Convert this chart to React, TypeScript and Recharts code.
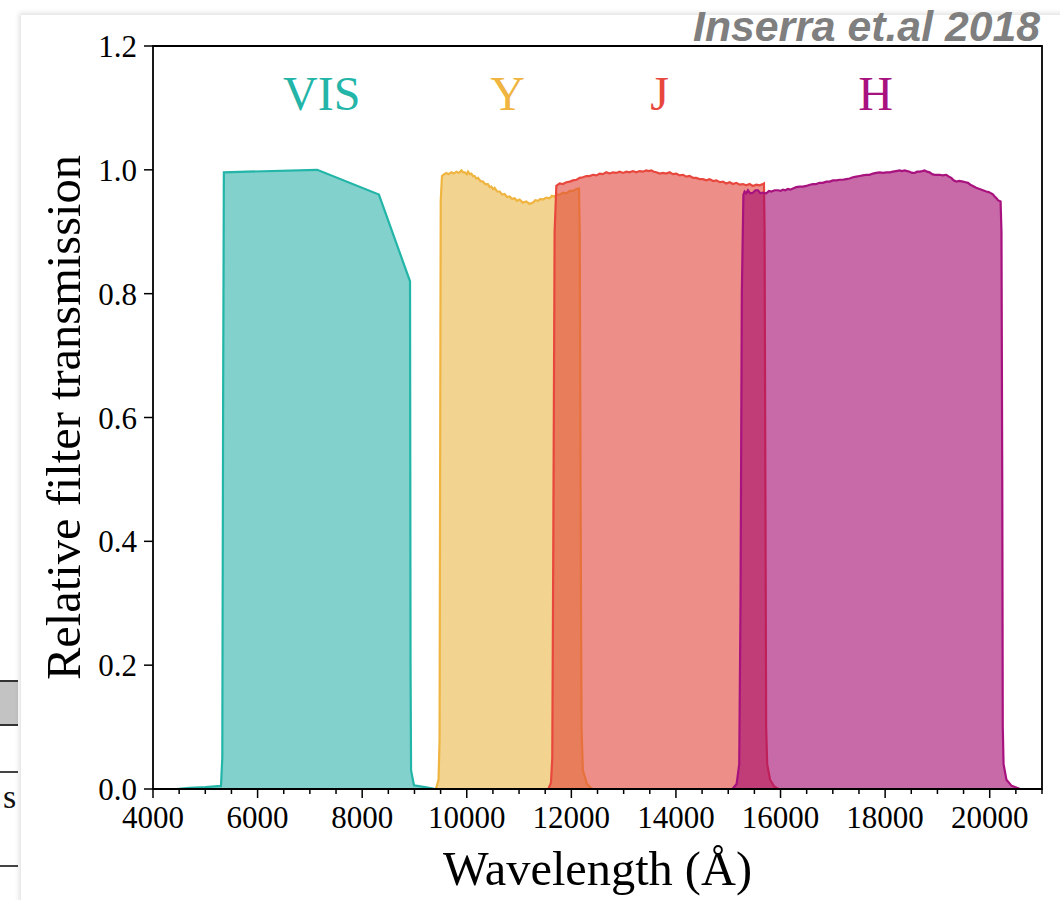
import React from 'react';
import { ComposedChart, Area, XAxis, YAxis, ReferenceArea, ReferenceDot } from 'recharts';

// Filter transmission curves: [wavelength (Å), relative transmission]
const visCurve: [number, number][] = [
  [4000, 0], [4450, 0], [4700, 0.002], [5000, 0.003], [5300, 0.005],
  [5325, 0.05], [5340, 0.6], [5355, 0.996], [7140, 1.0], [8320, 0.96],
  [8915, 0.82], [8925, 0.2], [8935, 0.03], [8990, 0.006], [9200, 0.003], [9400, 0],
];

const yCurve: [number, number][] = [
  [9410, 0], [9460, 0.015], [9480, 0.08], [9490, 0.5], [9502, 0.95], [9526, 0.99],
  [9570, 0.993], [9610, 0.995], [9650, 0.993], [9705, 0.996], [9750, 0.994],
  [9801, 0.997], [9850, 0.995], [9897, 0.999], [9930, 0.996], [9960, 0.996],
  [10000, 0.993], [10023, 0.997], [10060, 0.993], [10088, 0.994], [10120, 0.99],
  [10151, 0.99], [10180, 0.986], [10214, 0.987], [10260, 0.982], [10310, 0.981],
  [10350, 0.977], [10405, 0.977], [10440, 0.972], [10470, 0.973], [10500, 0.969],
  [10533, 0.971], [10580, 0.965], [10629, 0.965], [10680, 0.96], [10725, 0.961],
  [10770, 0.956], [10820, 0.957], [10870, 0.953], [10916, 0.954], [10960, 0.95],
  [11011, 0.952], [11070, 0.947], [11139, 0.949], [11200, 0.945], [11266, 0.947],
  [11310, 0.951], [11362, 0.95], [11410, 0.953], [11457, 0.952], [11520, 0.955],
  [11585, 0.954], [11630, 0.958], [11681, 0.957], [11730, 0.96], [11776, 0.96],
  [11840, 0.963], [11904, 0.962], [11970, 0.966], [12031, 0.966], [12096, 0.969],
  [12146, 0.97], [12160, 0.9], [12180, 0.4], [12195, 0.1], [12220, 0.03],
  [12300, 0.008], [12400, 0],
];

const jCurve: [number, number][] = [
  [4000, 0], [11560, 0], [11610, 0.01], [11635, 0.05], [11655, 0.4], [11680, 0.9],
  [11713, 0.974], [11745, 0.976], [11776, 0.978], [11840, 0.977], [11904, 0.98],
  [11970, 0.981], [12031, 0.983], [12100, 0.984], [12159, 0.987], [12220, 0.988],
  [12287, 0.99], [12350, 0.99], [12413, 0.992], [12480, 0.991], [12541, 0.994],
  [12600, 0.993], [12669, 0.996], [12730, 0.994], [12795, 0.996], [12860, 0.995],
  [12923, 0.997], [12990, 0.995], [13052, 0.997], [13110, 0.996], [13178, 0.998],
  [13240, 0.996], [13306, 0.998], [13370, 0.997], [13434, 0.999], [13480, 0.998],
  [13530, 0.999], [13580, 0.997], [13625, 0.996], [13690, 0.994], [13751, 0.995],
  [13815, 0.994], [13880, 0.996], [13940, 0.993], [14008, 0.994], [14070, 0.991],
  [14134, 0.992], [14200, 0.989], [14262, 0.99], [14330, 0.987], [14390, 0.987],
  [14450, 0.985], [14516, 0.985], [14580, 0.983], [14644, 0.985], [14710, 0.982],
  [14773, 0.983], [14840, 0.98], [14899, 0.981], [14960, 0.978], [15027, 0.98],
  [15090, 0.977], [15155, 0.979], [15220, 0.976], [15281, 0.977], [15345, 0.975],
  [15409, 0.977], [15470, 0.974], [15537, 0.976], [15600, 0.975], [15663, 0.977],
  [15683, 0.978], [15695, 0.9], [15710, 0.5], [15725, 0.1], [15745, 0.04],
  [15800, 0.015], [15880, 0.004], [15960, 0], [21000, 0],
];

const hCurve: [number, number][] = [
  [15080, 0], [15160, 0.008], [15210, 0.04], [15235, 0.3], [15260, 0.8], [15290, 0.96],
  [15313, 0.965], [15345, 0.962], [15377, 0.967], [15420, 0.962], [15472, 0.963],
  [15520, 0.967], [15568, 0.967], [15615, 0.962], [15663, 0.963], [15728, 0.962],
  [15780, 0.966], [15824, 0.965], [15890, 0.967], [15950, 0.967], [16000, 0.966],
  [16046, 0.968], [16090, 0.967], [16141, 0.969], [16190, 0.968], [16237, 0.97],
  [16300, 0.972], [16365, 0.973], [16430, 0.973], [16493, 0.974], [16560, 0.976],
  [16620, 0.977], [16680, 0.977], [16747, 0.979], [16810, 0.979], [16875, 0.981],
  [16940, 0.981], [17002, 0.983], [17070, 0.983], [17130, 0.984], [17190, 0.984],
  [17258, 0.985], [17320, 0.986], [17384, 0.988], [17450, 0.989], [17512, 0.99],
  [17575, 0.991], [17640, 0.992], [17700, 0.992], [17767, 0.994], [17830, 0.995],
  [17895, 0.996], [17960, 0.995], [18023, 0.996], [18090, 0.996], [18149, 0.997],
  [18210, 0.998], [18277, 0.999], [18325, 0.998], [18373, 0.999], [18420, 0.998],
  [18469, 0.997], [18515, 0.995], [18564, 0.995], [18610, 0.997], [18660, 0.997],
  [18710, 0.998], [18755, 0.999], [18800, 0.997], [18851, 0.996], [18900, 0.993],
  [18947, 0.992], [19000, 0.992], [19042, 0.992], [19100, 0.991], [19170, 0.992],
  [19220, 0.989], [19266, 0.987], [19310, 0.983], [19361, 0.981], [19420, 0.982],
  [19488, 0.981], [19540, 0.98], [19583, 0.979], [19630, 0.976], [19679, 0.974],
  [19740, 0.971], [19807, 0.969], [19870, 0.967], [19935, 0.965], [19980, 0.964],
  [20031, 0.962], [20065, 0.96], [20094, 0.957], [20130, 0.954], [20157, 0.951],
  [20208, 0.949], [20225, 0.9], [20240, 0.5], [20250, 0.1], [20265, 0.04],
  [20320, 0.015], [20420, 0.005], [20580, 0],
];

// Filter names placed above the curves
const filterNames = ['VIS', 'Y', 'J', 'H'];
const filterNameWl = [7226, 10782, 13688, 17818];
const filterNameLevel = 1.097;

const strokeColors = ['#22b5a8', '#efb540', '#e8473d', '#a8127f'];
const fillColors = ['#2fb2aa', '#e9b545', '#e14439', '#a3076e'];

const xTicks = [
  4000, 4500, 5000, 5500, 6000, 6500, 7000, 7500, 8000, 8500, 9000, 9500,
  10000, 10500, 11000, 11500, 12000, 12500, 13000, 13500, 14000, 14500,
  15000, 15500, 16000, 16500, 17000, 17500, 18000, 18500, 19000, 19500,
  20000, 20500, 21000,
];
const xLabelTicks = [4000, 6000, 8000, 10000, 12000, 14000, 16000, 18000, 20000];
const yTicks = [0, 0.2, 0.4, 0.6, 0.8, 1.0, 1.2];

const curves = [visCurve, yCurve, jCurve, hCurve].map((c) =>
  c.map(([wl, t]) => ({ wl, t }))
);

const SERIF = "'Liberation Serif', 'Times New Roman', serif";

function XTick(props: any) {
  const { x, y, payload } = props;
  const v = payload.value as number;
  const major = xLabelTicks.includes(v);
  return (
    <g>
      <line x1={x} x2={x} y1={y} y2={y + (major ? 9 : 5)} stroke="#000" strokeWidth={1.5} />
      {major && (
        <text x={x} y={y + 39} textAnchor="middle" fontFamily={SERIF} fontSize={31} fill="#000">
          {v}
        </text>
      )}
    </g>
  );
}

function YTick(props: any) {
  const { x, y, payload } = props;
  return (
    <g>
      <line x1={x - 9} x2={x} y1={y} y2={y} stroke="#000" strokeWidth={1.5} />
      <text x={x - 16} y={y + 11} textAnchor="end" fontFamily={SERIF} fontSize={31} fill="#000">
        {(payload.value as number).toFixed(1)}
      </text>
    </g>
  );
}

function XLabel(props: any) {
  const vb = props.viewBox;
  return (
    <text
      x={vb.x + vb.width / 2}
      y={vb.y + 96}
      textAnchor="middle"
      fontFamily={SERIF}
      fontSize={48}
      textLength={309}
      lengthAdjust="spacingAndGlyphs"
      fill="#000"
    >
      Wavelength (Å)
    </text>
  );
}

function YLabel(props: any) {
  const vb = props.viewBox;
  const cx = vb.x + vb.width - 73;
  const cy = vb.y + vb.height / 2;
  return (
    <text
      x={cx}
      y={cy}
      transform={`rotate(-90 ${cx} ${cy})`}
      textAnchor="middle"
      fontFamily={SERIF}
      fontSize={48}
      textLength={525}
      lengthAdjust="spacingAndGlyphs"
      fill="#000"
    >
      Relative filter transmission
    </text>
  );
}

function nameShape(i: number) {
  return (p: any) => (
    <text
      x={p.cx}
      y={p.cy}
      textAnchor="middle"
      fontFamily={SERIF}
      fontSize={48}
      fill={strokeColors[i]}
    >
      {filterNames[i]}
    </text>
  );
}

export default function App() {
  return (
    <div style={{ position: 'absolute', left: 0, top: 0, width: 1060, height: 900, background: '#fff', overflow: 'hidden' }}>
      {/* bits of the page behind the figure panel */}
      <div style={{ position: 'absolute', left: 0, top: 680, width: 18, height: 42, background: '#c3c3c3', borderTop: '2px solid #333', borderBottom: '2px solid #333' }} />
      <div style={{ position: 'absolute', left: 0, top: 771, width: 18, height: 0, borderTop: '2px solid #444' }} />
      <div style={{ position: 'absolute', left: 3, top: 778, fontFamily: SERIF, fontSize: 34, color: '#111' }}>s</div>
      <div style={{ position: 'absolute', left: 0, top: 865, width: 18, height: 0, borderTop: '2px solid #444' }} />
      <div
        style={{
          position: 'absolute', left: 21, top: 15, width: 1060, height: 900, background: '#fff',
          boxShadow: '-2px -2px 5px rgba(0,0,0,0.12)',
        }}
      />
      <div style={{ position: 'absolute', left: 0, top: 0 }}>
        <ComposedChart width={1060} height={900} margin={{ top: 46, right: 18, bottom: 0, left: 0 }}>
          <XAxis
            type="number"
            dataKey="wl"
            domain={[4000, 21000]}
            ticks={xTicks}
            interval={0}
            allowDataOverflow
            height={111}
            axisLine={false}
            tickLine={false}
            tickSize={0}
            tickMargin={0}
            tick={<XTick />}
            label={{ content: <XLabel /> }}
          />
          <YAxis
            type="number"
            domain={[0, 1.2]}
            ticks={yTicks}
            interval={0}
            allowDataOverflow
            width={153}
            axisLine={false}
            tickLine={false}
            tickSize={0}
            tickMargin={0}
            tick={<YTick />}
            label={{ content: <YLabel /> }}
          />
          {curves.map((data, i) => (
            <Area
              key={filterNames[i]}
              data={data}
              dataKey="t"
              type="linear"
              stroke={strokeColors[i]}
              strokeWidth={2.2}
              fill={fillColors[i]}
              fillOpacity={0.6}
              dot={false}
              activeDot={false}
              isAnimationActive={false}
            />
          ))}
          <ReferenceArea
            x1={4000}
            x2={21000}
            y1={0}
            y2={1.2}
            fill="none"
            fillOpacity={0}
            stroke="#000"
            strokeWidth={1.8}
            ifOverflow="visible"
          />
          {filterNames.map((n, i) => (
            <ReferenceDot
              key={n}
              x={filterNameWl[i]}
              y={filterNameLevel}
              r={0}
              ifOverflow="visible"
              shape={nameShape(i)}
            />
          ))}
        </ComposedChart>
      </div>
      <svg style={{ position: 'absolute', left: 0, top: 0 }} width={1060} height={60}>
        <text
          x={1040}
          y={41}
          textAnchor="end"
          fontFamily="'Liberation Sans Narrow', 'Liberation Sans', Arial, sans-serif"
          fontWeight="bold"
          fontStyle="italic"
          fontSize={43}
          textLength={347}
          lengthAdjust="spacingAndGlyphs"
          fill="#7f7f7f"
        >
          Inserra et.al 2018
        </text>
      </svg>
    </div>
  );
}
